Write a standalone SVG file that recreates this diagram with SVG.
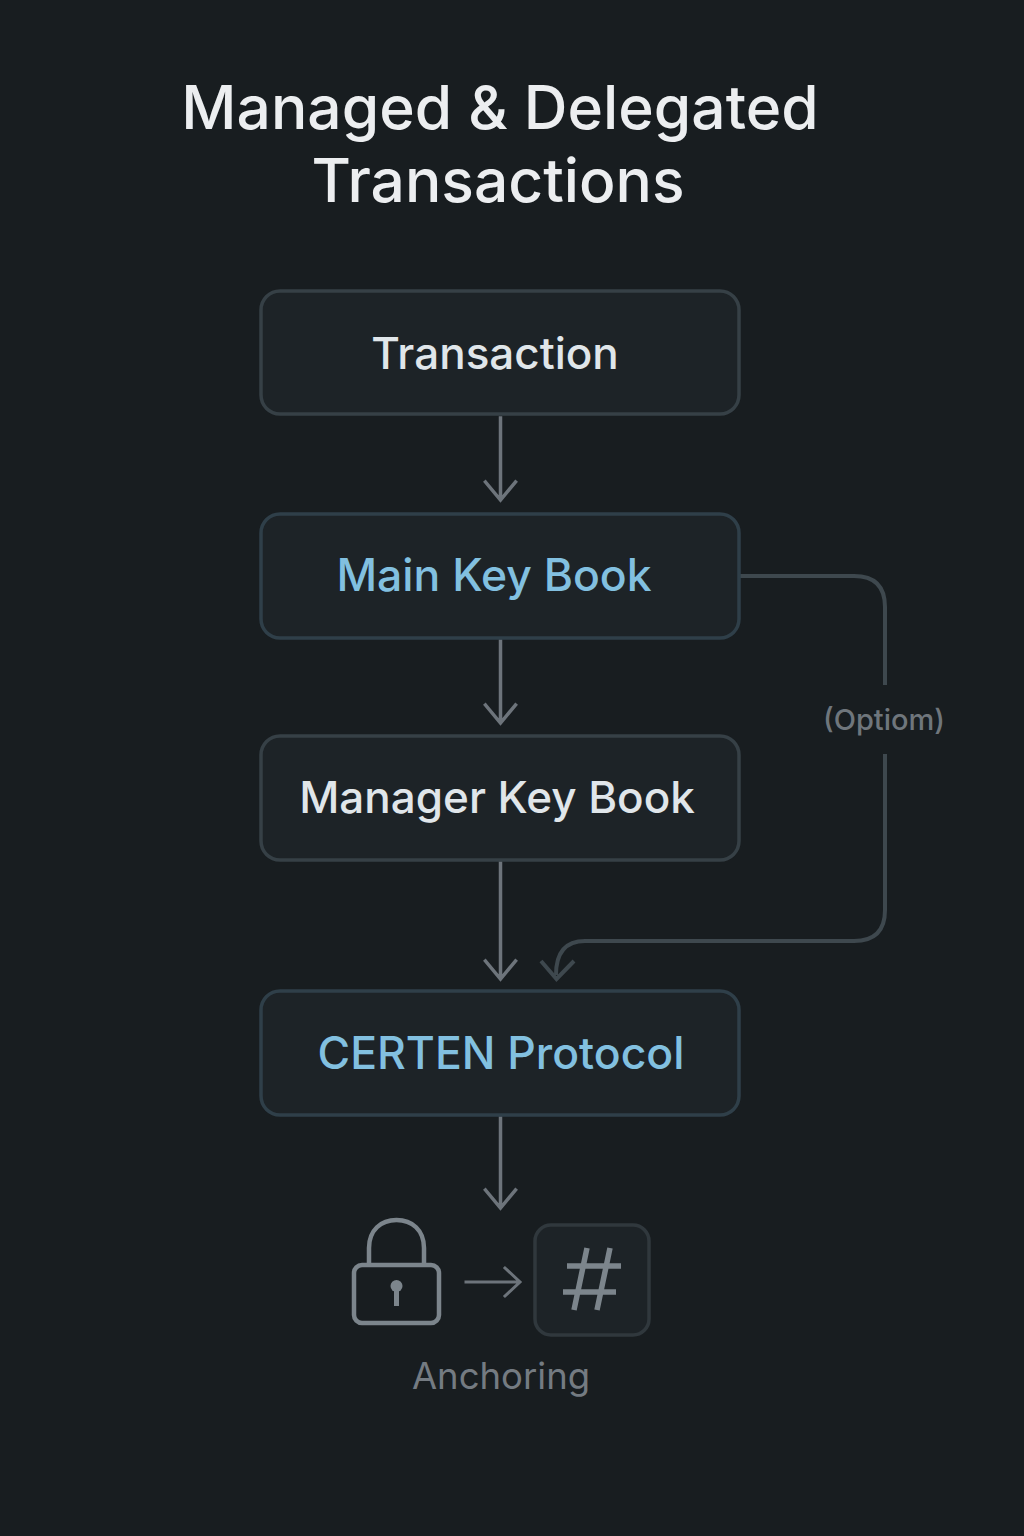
<svg xmlns="http://www.w3.org/2000/svg" width="1024" height="1536" viewBox="0 0 1024 1536">
<style>
text{font-family:Inter,"Liberation Sans",sans-serif;text-anchor:middle}
.title{font-size:60.500px;font-weight:500;fill:#eceef0}
.box{fill:#1d2327;stroke:#364046;stroke-width:3.500px}
.boxb{fill:#1d2327;stroke:#2f3f49;stroke-width:3.500px}
.lab{font-size:44px;font-weight:500}
.w{fill:#e0e6ea}
.b{fill:#82c0e0}
.c{fill:none;stroke:#6d747b;stroke-width:3.500px;stroke-linecap:square;stroke-linejoin:miter}
.o{fill:none;stroke:#3e484e;stroke-width:4}
.i{fill:none;stroke:#7c858c;stroke-width:4.500px}
</style>
<rect width="1024" height="1536" fill="#181d20"/>
<g id="title">
<text class="title" x="500" y="129">Managed &amp; Delegated</text>
<text class="title" x="498" y="202">Transactions</text>
</g>
<g id="connectors">
<path class="c" d="M500.500 418V499M485.500 482L500.500 500L515.500 482"/>
<path class="c" d="M500.500 641V722M485.500 705L500.500 723L515.500 705"/>
<path class="c" d="M500.500 863V978M485.500 961L500.500 979L515.500 961"/>
<path class="c" d="M500.500 1118V1206M485.500 1190L500.500 1208L515.500 1190"/>
<path class="o" d="M740 576H854Q885 576 885 607V685M885 754V910Q885 941 854 941H585Q556 941 556 975"/>
<path class="o" d="M541 961L556.500 979L574 961"/>
<path class="c" d="M466 1282H519M505 1268L520 1282L505 1296" style="stroke-width:3px"/>
</g>
<g id="n1"><rect class="box" x="261" y="291" width="478" height="123" rx="19"/><text class="lab w" x="495" y="369">Transaction</text></g>
<g id="n2"><rect class="boxb" x="261" y="514" width="478" height="124" rx="19"/><text class="lab b" x="494" y="591" style="font-size:44.500px">Main Key Book</text></g>
<g id="n3"><rect class="box" x="261" y="736" width="478" height="124" rx="19"/><text class="lab w" x="497" y="813">Manager Key Book</text></g>
<g id="n4"><rect class="boxb" x="261" y="991" width="478" height="124" rx="19"/><text class="lab b" x="501" y="1069" style="font-size:44.500px">CERTEN Protocol</text></g>
<g id="option"><text x="884" y="730" font-size="29" font-weight="500" fill="#6f767c">(Optiom)</text></g>
<g id="lock">
<rect class="i" x="354" y="1265" width="85" height="58" rx="8"/>
<path class="i" d="M369 1265V1248C369 1230 381 1220 396.500 1220C412 1220 424 1230 424 1248V1265"/>
<circle cx="396.500" cy="1286" r="6" fill="#7c858c"/>
<rect x="394" y="1288" width="5" height="18" fill="#7c858c"/>
</g>
<g id="hash">
<rect x="535" y="1225" width="114" height="110" rx="16" fill="#1d2327" stroke="#30383d" stroke-width="3.500"/>
<path d="M587 1248L574 1310M610 1248L597 1310M567 1266H621M563 1292H616" fill="none" stroke="#7c858c" stroke-width="5.500"/>
</g>
<g id="anchoring"><text x="501" y="1389" font-size="36" fill="#747b82" style="font-size:36.500px">Anchoring</text></g>
</svg>
